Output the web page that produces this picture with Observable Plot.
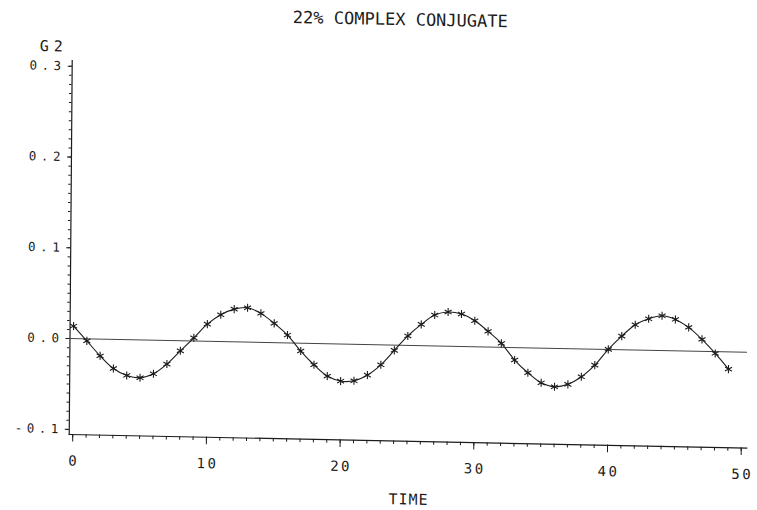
<!DOCTYPE html>
<html>
<head>
<meta charset="utf-8">
<script src="https://cdn.jsdelivr.net/npm/d3@7"></script>
<script src="https://cdn.jsdelivr.net/npm/@observablehq/plot@0.6"></script>
<style>
  body { margin: 0; background: #fff; }
  #chart svg { display: block; }
  g[aria-description="y tick label"] text { letter-spacing: 4.5px; }
  g[aria-description="y label"] text { letter-spacing: 5px; }
  g[aria-description="x tick label"] text { letter-spacing: 2.5px; }
  g[aria-description="x label"] text { letter-spacing: 1px; }
</style>
</head>
<body>
<div id="chart"></div>
<script>
// Plot text
const title = "22% COMPLEX CONJUGATE";
const xLabel = "TIME";
const yLabel = "G2";

// G2 response sampled at each time step
const time = [0, 1, 2, 3, 4, 5, 6, 7, 8, 9, 10, 11, 12, 13, 14, 15, 16, 17, 18, 19,
              20, 21, 22, 23, 24, 25, 26, 27, 28, 29, 30, 31, 32, 33, 34, 35, 36, 37, 38, 39,
              40, 41, 42, 43, 44, 45, 46, 47, 48, 49];
const g2 = [0.0139, -0.0021, -0.0183, -0.0319, -0.0393, -0.0416, -0.0369, -0.0259, -0.0110, 0.0036,
            0.0190, 0.0296, 0.0361, 0.0379, 0.0320, 0.0213, 0.0087, -0.0086, -0.0234, -0.0356,
            -0.0408, -0.0402, -0.0336, -0.0220, -0.0058, 0.0104, 0.0234, 0.0340, 0.0376, 0.0357,
            0.0286, 0.0172, 0.0043, -0.0138, -0.0275, -0.0383, -0.0424, -0.0394, -0.0308, -0.0176,
            0.0000, 0.0149, 0.0277, 0.0346, 0.0382, 0.0345, 0.0260, 0.0131, -0.0021, -0.0191];

// Axis ticks and their printed labels
const xMajorTicks = [0, 10, 20, 30, 40, 50];
const xTickLabels = ["0", "10", "20", "30", "40", "50"];
const yMajorTicks = [-0.1, 0, 0.1, 0.2, 0.3];
const yTickLabels = ["-0.1", "0.0", "0.1", "0.2", "0.3"];
const xMinorTicks = d3.range(0, 51, 1);
const yMinorTicks = d3.range(-10, 31).map(i => i / 100);

const series = time.map((t, i) => ({time: t, g2: g2[i]}));
const font = "DejaVu Sans Mono";
const ink = "#1c1c1c";

const chart = Plot.plot({
  width: 757,
  height: 510,
  marginLeft: 69.5,
  marginRight: 10,
  marginTop: 60,
  marginBottom: 76,
  insetLeft: 3.5,
  insetRight: 5.5,
  insetTop: 5.8,
  insetBottom: 5.1,
  x: {domain: [0, 50], axis: null},
  y: {domain: [-0.1, 0.3], axis: null},
  style: {background: "#fff", overflow: "visible", fontFamily: font},
  marks: [
    // axis lines
    Plot.frame({anchor: "left", stroke: ink, strokeWidth: 1.2}),
    Plot.frame({anchor: "bottom", stroke: ink, strokeWidth: 1.2}),
    // tick marks
    Plot.axisY(yMinorTicks, {tickSize: 2.5, tickFormat: () => "", stroke: ink, label: null}),
    Plot.axisY(yMajorTicks, {tickSize: 4, tickFormat: () => "", stroke: ink, label: null}),
    Plot.axisX(xMinorTicks, {tickSize: 3.5, tickFormat: () => "", stroke: ink, label: null}),
    Plot.axisX(xMajorTicks, {tickSize: 7.5, tickFormat: () => "", stroke: ink, label: null}),
    // tick labels
    Plot.text(yMajorTicks, {
      y: d => d, text: (d, i) => yTickLabels[i], frameAnchor: "left", textAnchor: "end",
      dx: -6.5, fontSize: 12.5, fontFamily: font, fill: ink, ariaDescription: "y tick label"
    }),
    Plot.text(xMajorTicks, {
      x: d => d, text: (d, i) => xTickLabels[i], frameAnchor: "bottom", lineAnchor: "top",
      dy: 21, dx: 1.2, fontSize: 14, fontFamily: font, fill: ink, ariaDescription: "x tick label"
    }),
    // axis labels and title
    Plot.text([yLabel], {
      text: d => d, frameAnchor: "top-left", textAnchor: "start", lineAnchor: "top",
      dx: -32.5, dy: -19.6, fontSize: 15, fontFamily: font, fill: ink, ariaDescription: "y label"
    }),
    Plot.text([xLabel], {
      text: d => d, frameAnchor: "bottom", lineAnchor: "top",
      dx: 1, dy: 52.6, fontSize: 15, fontFamily: font, fill: ink, ariaDescription: "x label"
    }),
    Plot.text([title], {
      text: d => d, frameAnchor: "top", lineAnchor: "top",
      dx: -11, dy: -54, fontSize: 17, fontFamily: font, fill: ink, ariaDescription: "title"
    }),
    // zero reference
    Plot.ruleY([0], {stroke: "#444", strokeWidth: 1}),
    // G2 series
    Plot.line(series, {x: "time", y: "g2", curve: "catmull-rom", stroke: ink, strokeWidth: 1.1}),
    Plot.dot(series, {x: "time", y: "g2", symbol: "asterisk", r: 3.8, stroke: ink, strokeWidth: 1.1})
  ]
});

// the plotted sheet sits slightly askew
chart.style.transformOrigin = "70px 338px";
chart.style.transform = "matrix(1, 0.02, -0.008, 1, 0, 0)";

document.getElementById("chart").append(chart);
</script>
</body>
</html>
